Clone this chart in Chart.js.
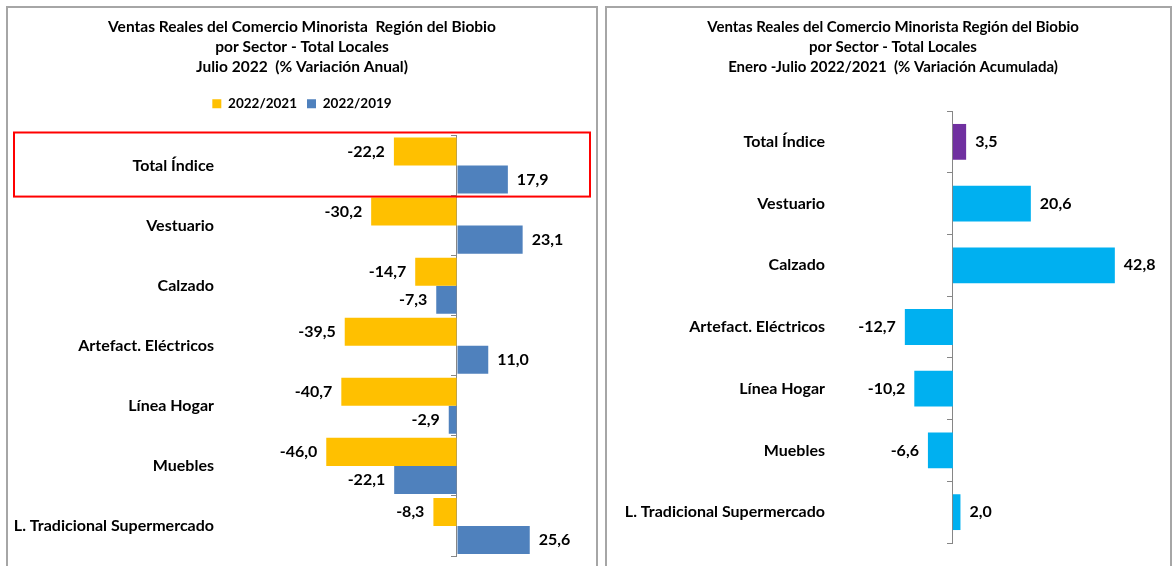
<!DOCTYPE html>
<html>
<head>
<meta charset="utf-8">
<script src="https://cdn.jsdelivr.net/npm/chart.js@4.4.1/dist/chart.umd.min.js"></script>
<style>
  body { margin: 0; width: 1173px; height: 566px; overflow: hidden; background: #fff; }
  .panel { position: absolute; top: 6px; border: 2px solid #a6a6a6; background: #fff; }
  #p1 { left: 6px; width: 588px; height: 570px; }
  #p2 { left: 605px; width: 563px; height: 570px; }
  canvas { display: block; }
</style>
</head>
<body>
<div class="panel" id="p1"><canvas id="anual" width="588" height="558"></canvas></div>
<div class="panel" id="p2"><canvas id="acumulada" width="563" height="558"></canvas></div>
<script>
// sectores (mismo orden en ambos gráficos)
const sectores = ["Total Índice", "Vestuario", "Calzado", "Artefact. Eléctricos", "Línea Hogar", "Muebles", "L. Tradicional Supermercado"];

// Julio 2022, % variación anual
const var2022_2021 = [-22.2, -30.2, -14.7, -39.5, -40.7, -46.0, -8.3];
const var2022_2019 = [17.9, 23.1, -7.3, 11.0, -2.9, -22.1, 25.6];

// Enero-Julio 2022/2021, % variación acumulada
const varAcumulada = [3.5, 20.6, 42.8, -12.7, -10.2, -6.6, 2.0];

const titulo1 = ["Ventas Reales del Comercio Minorista  Región del Biobio", "por Sector - Total Locales", "Julio 2022  (% Variación Anual)"];
const titulo2 = ["Ventas Reales del Comercio Minorista Región del Biobio", "por Sector - Total Locales", "Enero -Julio 2022/2021  (% Variación Acumulada)"];

Chart.defaults.font.family = "Lato, 'Liberation Sans', sans-serif";
Chart.defaults.color = "#000";

const gris = "#868686";

// etiquetas de valor al final de cada barra, con coma decimal
const etiquetasValor = {
    id: "etiquetasValor",
    afterDatasetsDraw(chart) {
        const ctx = chart.ctx;
        ctx.save();
        ctx.font = "bold 16px Lato";
        ctx.fillStyle = "#000";
        ctx.textBaseline = "middle";
        chart.data.datasets.forEach((ds, i) => {
            chart.getDatasetMeta(i).data.forEach((bar, j) => {
                const v = ds.data[j];
                const neg = v < 0;
                ctx.textAlign = neg ? "right" : "left";
                ctx.fillText(v.toFixed(1).replace(".", ","), bar.x + (neg ? -9 : 9), bar.y);
            });
        });
        ctx.restore();
    }
};

// recuadro rojo alrededor de "Total Índice"
const recuadro = {
    id: "recuadro",
    afterDraw(chart) {
        const y = chart.scales.y;
        const paso = y.getPixelForValue(1) - y.getPixelForValue(0);
        const top = y.getPixelForValue(0) - paso / 2 - 3;
        const ctx = chart.ctx;
        ctx.save();
        ctx.strokeStyle = "#ff0000";
        ctx.lineWidth = 2;
        ctx.strokeRect(6, top, chart.width - 12, paso + 4);
        ctx.restore();
    }
};

function escalas(min, max, anchoEtiquetas, espacioArriba) {
    return {
        x: {
            type: "linear", min: min, max: max,
            display: espacioArriba > 0, position: "top",
            ticks: { display: false },
            grid: { drawOnChartArea: false, drawTicks: true, tickLength: espacioArriba, color: "transparent" },
            border: { display: false }
        },
        y: {
            type: "category", position: { x: 0 }, offset: true,
            ticks: { display: false },
            grid: { offset: true, drawOnChartArea: false, tickLength: 5, color: gris },
            border: { color: gris, width: 1 }
        },
        yl: {
            type: "category", axis: "y", position: "left", offset: true,
            grid: { display: false, drawTicks: false },
            border: { display: false },
            ticks: { font: { size: 16, weight: "bold" }, padding: 0, autoSkip: false },
            afterFit(scale) { scale.width = anchoEtiquetas; }
        }
    };
}

new Chart(document.getElementById("anual"), {
    type: "bar",
    data: {
        labels: sectores,
        datasets: [
            { label: "2022/2021", data: var2022_2021, backgroundColor: "#ffc000", yAxisID: "y" },
            { label: "2022/2019", data: var2022_2019, backgroundColor: "#4f81bd", yAxisID: "y" }
        ]
    },
    options: {
        indexAxis: "y",
        responsive: false,
        animation: false,
        categoryPercentage: 0.933,
        barPercentage: 1,
        layout: { padding: { top: 9, bottom: 10, left: 6, right: 6 } },
        scales: escalas(-85.5, 46.8, 200, 15),
        plugins: {
            title: {
                display: true, text: titulo1,
                font: { size: 15.5, weight: "bold", lineHeight: "20px" },
                padding: { top: 0, bottom: 10 }
            },
            legend: {
                display: true,
                labels: { boxWidth: 9, boxHeight: 9, padding: 10, font: { size: 13.5, weight: "bold" } }
            },
            tooltip: { enabled: false }
        }
    },
    plugins: [etiquetasValor, recuadro]
});

new Chart(document.getElementById("acumulada"), {
    type: "bar",
    data: {
        labels: sectores,
        datasets: [
            {
                label: "Acumulada",
                data: varAcumulada,
                backgroundColor: ["#7030a0", "#00b0f0", "#00b0f0", "#00b0f0", "#00b0f0", "#00b0f0", "#00b0f0"],
                yAxisID: "y"
            }
        ]
    },
    options: {
        indexAxis: "y",
        responsive: false,
        animation: false,
        categoryPercentage: 1,
        barPercentage: 0.58,
        layout: { padding: { top: 9, bottom: 23, left: 18, right: 9 } },
        scales: escalas(-33.8, 55, 200, 0),
        plugins: {
            title: {
                display: true, text: titulo2,
                font: { size: 15, weight: "bold", lineHeight: "20px" },
                padding: { top: 0, bottom: 34 }
            },
            legend: { display: false },
            tooltip: { enabled: false }
        }
    },
    plugins: [etiquetasValor]
});
</script>
</body>
</html>
